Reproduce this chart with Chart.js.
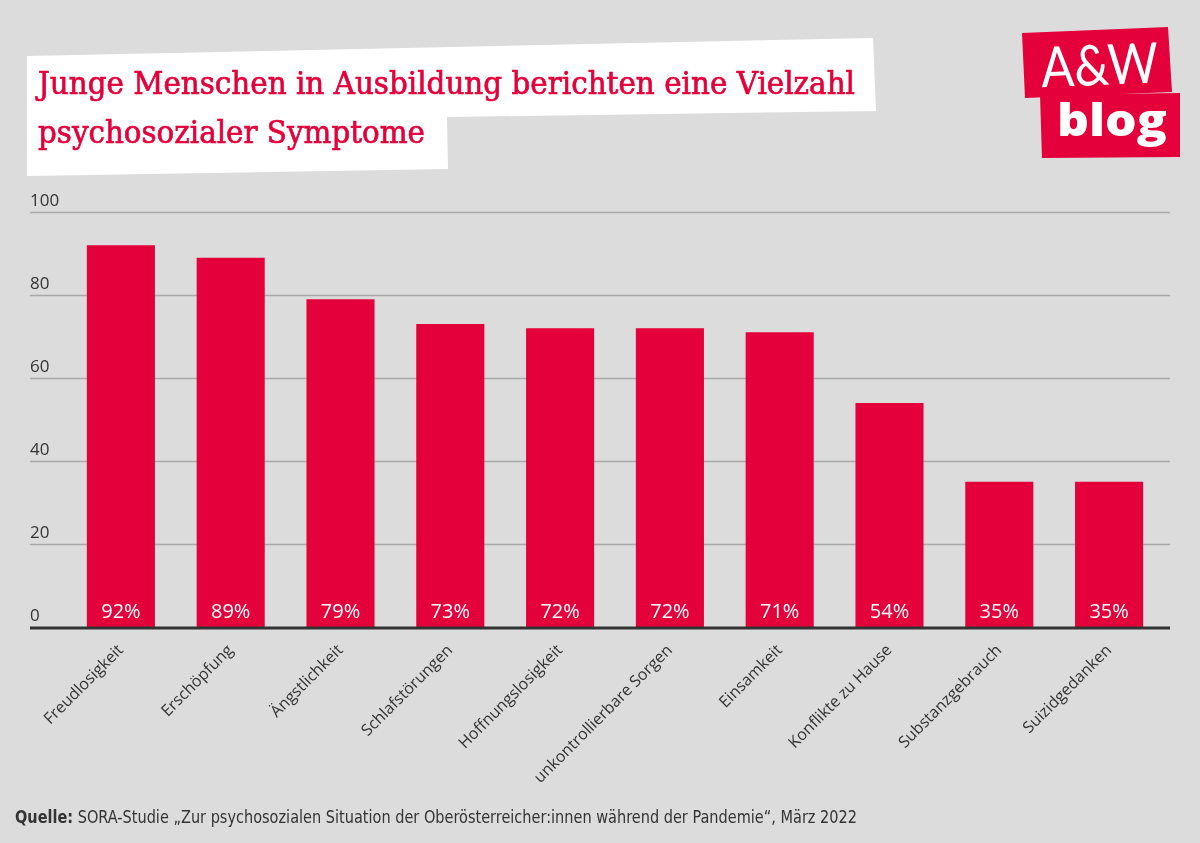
<!DOCTYPE html>
<html><head><meta charset="utf-8">
<script src="https://cdn.jsdelivr.net/npm/chart.js@4"></script>
<style>
html,body{margin:0;padding:0;background:#dcdcdc;width:1200px;height:843px;overflow:hidden}
#wrap{position:relative;width:1200px;height:843px}
#c{position:absolute;left:0;top:0}
#ov{position:absolute;left:0;top:0}
.ttl{font-family:'DejaVu Serif',serif;font-size:32px;fill:#e4003a;stroke:#e4003a;stroke-width:0.7px}
</style>
</head><body>
<div id="wrap">
<canvas id="c" width="1200" height="843"></canvas>
<svg id="ov" width="1200" height="843" xmlns="http://www.w3.org/2000/svg">
  <polygon points="27,56 873,38 876,111 447,117 448,169 27,176" fill="#ffffff"/>
  <text class="ttl" x="38" y="94" textLength="817" lengthAdjust="spacingAndGlyphs">Junge Menschen in Ausbildung berichten eine Vielzahl</text>
  <text class="ttl" x="38" y="143" textLength="387" lengthAdjust="spacingAndGlyphs">psychosozialer Symptome</text>
  <polygon points="1022,33 1168,27 1172,92 1025,98" fill="#e4003a"/>
  <text x="1041" y="85" font-family="Lato, 'Open Sans', sans-serif" font-weight="400" font-size="56" fill="#ffffff" textLength="117" lengthAdjust="spacingAndGlyphs" transform="rotate(-2.3 1097 65)">A&amp;W</text>
  <polygon points="1040,95 1180,93 1180,157 1042,158" fill="#e4003a"/>
  <text x="1057" y="136" font-family="'Open Sans', sans-serif" font-weight="800" font-size="45" fill="#ffffff" textLength="110" lengthAdjust="spacingAndGlyphs">blog</text>
  <text x="15" y="823" font-family="'Liberation Sans Narrow', 'DejaVu Sans Condensed', sans-serif" font-size="17" fill="#333333" textLength="842" lengthAdjust="spacingAndGlyphs"><tspan font-weight="bold">Quelle:</tspan> SORA-Studie „Zur psychosozialen Situation der Oberösterreicher:innen während der Pandemie“, März 2022</text>
</svg>
</div>
<script>
const categories = ["Freudlosigkeit","Erschöpfung","Ängstlichkeit","Schlafstörungen","Hoffnungslosigkeit","unkontrollierbare Sorgen","Einsamkeit","Konflikte zu Hause","Substanzgebrauch","Suizidgedanken"];
const values = [92,89,79,73,72,72,71,54,35,35];
const yTicks = [0,20,40,60,80,100];

const gridPlugin = {
  id:'gridPlugin',
  beforeDatasetsDraw(chart){
    const ctx = chart.ctx, y = chart.scales.y;
    ctx.save();
    ctx.font = '17px "Open Sans", sans-serif';
    ctx.fillStyle = '#333333';
    ctx.textAlign = 'left';
    ctx.textBaseline = 'alphabetic';
    yTicks.forEach(v => {
      const py = Math.round(y.getPixelForValue(v)) + 0.5;
      if (v > 0) {
        ctx.strokeStyle = '#a9a9a9';
        ctx.lineWidth = 1.5;
        ctx.beginPath(); ctx.moveTo(30, py); ctx.lineTo(1170, py); ctx.stroke();
      }
      ctx.fillText(String(v), 30, py - 7);
    });
    ctx.restore();
  },
  afterDatasetsDraw(chart){
    const ctx = chart.ctx, y = chart.scales.y;
    const y0 = y.getPixelForValue(0);
    ctx.save();
    ctx.strokeStyle = '#333333';
    ctx.lineWidth = 3;
    ctx.beginPath(); ctx.moveTo(30, y0 + 1); ctx.lineTo(1170, y0 + 1); ctx.stroke();
    ctx.font = '20px "Open Sans", sans-serif';
    ctx.fillStyle = '#ffffff';
    ctx.textAlign = 'center';
    ctx.textBaseline = 'alphabetic';
    chart.getDatasetMeta(0).data.forEach((el, i) => {
      ctx.fillText(values[i] + '%', el.x, y0 - 9);
    });
    ctx.restore();
  }
};

new Chart(document.getElementById('c'), {
  type:'bar',
  data:{labels:categories, datasets:[{data:values, backgroundColor:'#e4003a', borderWidth:0, categoryPercentage:1, barPercentage:0.62}]},
  options:{
    responsive:false, animation:false, devicePixelRatio:1,
    layout:{padding:{left:66, right:36, top:212, bottom:0}},
    plugins:{legend:{display:false}, tooltip:{enabled:false}},
    scales:{
      x:{
        grid:{display:false}, border:{display:false},
        ticks:{color:'#333333', font:{family:'"Open Sans", sans-serif', size:16}, minRotation:45, maxRotation:45, padding:6, autoSkip:false},
        afterFit(s){ s.height = 216; }
      },
      y:{display:false, min:0, max:100}
    }
  },
  plugins:[gridPlugin]
});
</script>
</body></html>
